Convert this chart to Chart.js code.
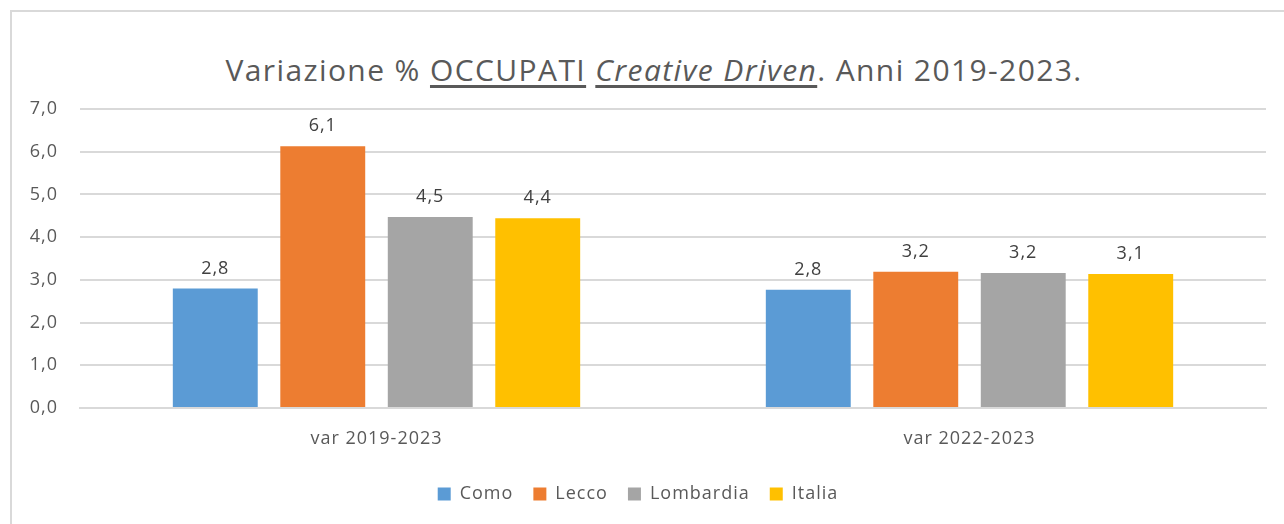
<!DOCTYPE html>
<html>
<head>
<meta charset="utf-8">
<script src="https://cdn.jsdelivr.net/npm/chart.js@4"></script>
<style>
  body { margin: 0; background: #fff; }
  #wrap { position: relative; width: 1284px; height: 524px; overflow: hidden; }
  #frame { position: absolute; left: 10px; top: 10px; width: 1300px; height: 540px;
           border-top: 2px solid #d9d9d9; border-left: 2px solid #d9d9d9; }
  #title { position: absolute; left: 0; width: 1308px; top: 49px; text-align: center;
           font-family: "Open Sans", sans-serif; font-size: 30px; letter-spacing: 1.4px;
           color: #595959; white-space: nowrap; }
  #title u { text-underline-offset: 4px; }
  canvas { position: absolute; left: 0; top: 0; }
</style>
</head>
<body>
<div id="wrap">
  <div id="frame"></div>
  <div id="title">Variazione % <u>OCCUPATI</u> <u><i>Creative Driven</i></u>. Anni 2019-2023.</div>
  <canvas id="chart" width="1284" height="524"></canvas>
</div>
<script>
const categories = ['var 2019-2023', 'var 2022-2023']
const como = [2.8, 2.77]
const lecco = [6.13, 3.19]
const lombardia = [4.47, 3.16]
const italia = [4.44, 3.14]

const font = 'Open Sans'

const fmt = v => v.toFixed(1).replace('.', ',')

// wider text, closer to the original's look
const spacing = {
  id: 'spacing',
  beforeInit(chart) { chart.ctx.letterSpacing = '1px' },
  beforeUpdate(chart) { chart.ctx.letterSpacing = '1px' },
  beforeDraw(chart) { chart.ctx.letterSpacing = '1px' },
}

const valueLabels = {
  id: 'valueLabels',
  afterDatasetsDraw(chart) {
    const ctx = chart.ctx
    ctx.save()
    ctx.font = '18px "' + font + '"'
    ctx.fillStyle = '#404040'
    ctx.textAlign = 'center'
    ctx.textBaseline = 'bottom'
    chart.data.datasets.forEach((ds, i) => {
      chart.getDatasetMeta(i).data.forEach((bar, j) => {
        ctx.fillText(fmt(ds.data[j]), bar.x, bar.y - 11)
      })
    })
    ctx.restore()
  }
}

const data = {
  labels: categories,
  datasets: [
    { label: 'Como', data: como, backgroundColor: '#5B9BD5' },
    { label: 'Lecco', data: lecco, backgroundColor: '#ED7D31' },
    { label: 'Lombardia', data: lombardia, backgroundColor: '#A5A5A5' },
    { label: 'Italia', data: italia, backgroundColor: '#FFC000' },
  ],
}

const config = {
  type: 'bar',
  data: data,
  plugins: [spacing, valueLabels],
  options: {
    responsive: false,
    animation: false,
    categoryPercentage: 0.725,
    barPercentage: 0.79,
    layout: { padding: { left: 10, right: 18, top: 109, bottom: 11 } },
    plugins: {
      title: { display: false },
      tooltip: { enabled: false },
      legend: {
        position: 'bottom',
        labels: {
          boxWidth: 13, boxHeight: 13, padding: 20,
          color: '#595959',
          font: { family: font, size: 18 },
        },
      },
    },
    scales: {
      x: {
        grid: { display: false },
        border: { color: '#d9d9d9', width: 2 },
        ticks: { color: '#595959', padding: 12, font: { family: font, size: 18 } },
        afterFit: s => { s.height = 57 },
      },
      y: {
        min: 0, max: 7,
        grid: { color: '#d9d9d9', lineWidth: 2, drawTicks: false },
        border: { display: false },
        ticks: {
          stepSize: 1, padding: 22, color: '#595959',
          font: { family: font, size: 18 },
          callback: v => fmt(v),
        },
        afterFit: s => { s.width = 70 },
      },
    },
  },
}

const canvas = document.getElementById('chart')
const chart = new Chart(canvas, config)
</script>
</body>
</html>
